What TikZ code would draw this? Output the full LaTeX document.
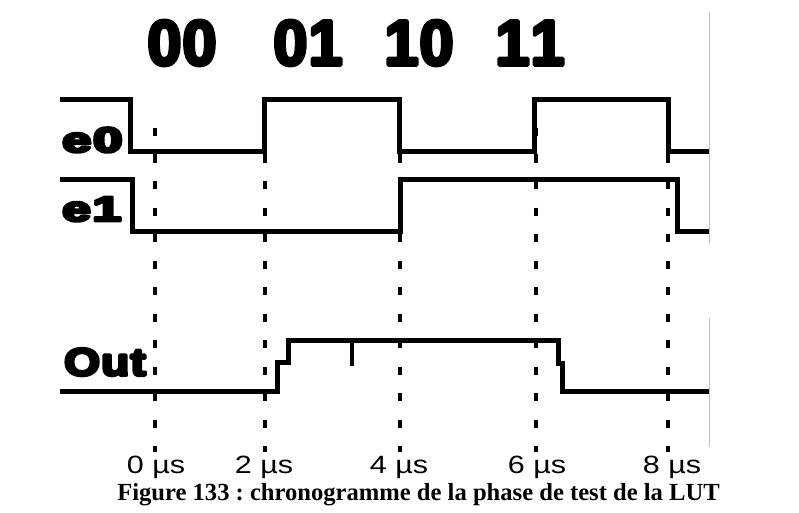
\documentclass[tikz,border=0pt]{standalone}
\usepackage{fontspec}
\setmainfont{Liberation Serif}
\newfontfamily\lblfont{Liberation Sans}
\newfontfamily\tfont{Liberation Sans}
\newcommand\sxbox[2]{\scalebox{#1}[1]{#2}}
\newcommand\heavytext[2]{\special{pdf:literal direct 2 Tr 1 j #1 w}#2\special{pdf:literal direct 0 Tr}}
\frenchspacing
\begin{document}
\begin{tikzpicture}[x=1pt,y=-1pt,
  wave/.style={line width=5pt, line join=miter, line cap=butt},
  gridln/.style={line width=3.5pt, dash pattern=on 8pt off 18.5pt},
  border/.style={line width=1pt, draw=black!25},
  siglbl/.style={inner sep=0pt, anchor=base west, font=\lblfont\bfseries},
  toplbl/.style={inner sep=0pt, anchor=base, font=\lblfont\bfseries\fontsize{64}{64}\selectfont},
  timelbl/.style={inner sep=0pt, anchor=base, font=\tfont\fontsize{25}{25}\selectfont},
  caption/.style={inner sep=0pt, anchor=base, font=\bfseries\fontsize{24.6}{25}\selectfont}]
\useasboundingbox (0,0) rectangle (799,513);
% right border of the figure
\draw[border] (709,12) -- (709,243);
\draw[border] (709,318) -- (709,447);
% time grid
\foreach \gx in {155,265,400,536,668}
  \draw[gridln] (\gx,128) -- (\gx,452);
% top labels
\node[toplbl] (l00) at (182,65) {\sxbox{0.96}{\heavytext{3.6}{0\kern1pt 0}}};
\node[toplbl] (l01) at (308,65) {\sxbox{0.96}{\heavytext{3.6}{0\kern1pt 1}}};
\node[toplbl] (l10) at (419,65) {\sxbox{0.96}{\heavytext{3.6}{1\kern1pt 0}}};
\node[toplbl] (l11) at (530,65) {\sxbox{0.96}{\heavytext{3.6}{1\kern1pt 1}}};
% signal names
\node[siglbl] (ne0) at (62,152) {\fontsize{35}{35}\selectfont\sxbox{1.5}{\heavytext{2.8}{e\kern1.2pt 0}}};
\node[siglbl] (ne1) at (62,221) {\fontsize{35}{35}\selectfont\sxbox{1.47}{\heavytext{2.8}{e\kern1.2pt 1}}};
\node[siglbl] (nout) at (64,375.5) {\fontsize{39}{39}\selectfont\sxbox{1.18}{\heavytext{2.8}{O\kern1pt u\kern1pt t}}};
% waveforms
\draw[wave] (60,100) -- (130,100) -- (130,152) -- (264,152) -- (264,100) -- (399,100)
  -- (399,152) -- (534,152) -- (534,100) -- (668,100) -- (668,152) -- (709,152);
\draw[wave] (60,179) -- (132,179) -- (132,231) -- (400,231) -- (400,179) -- (677,179)
  -- (677,231) -- (709,231);
\draw[wave] (60,391) -- (277,391) -- (277,362) -- (288,362) -- (288,340) -- (558,340)
  -- (558,363) -- (562,363) -- (562,391) -- (709,391);
\draw[line width=4pt] (352,340) -- (352,366);
% time labels
\node[timelbl] (t0) at (156,473) {\sxbox{1.22}{0 µs}};
\node[timelbl] (t2) at (264,473) {\sxbox{1.22}{2 µs}};
\node[timelbl] (t4) at (399,473) {\sxbox{1.22}{4 µs}};
\node[timelbl] (t6) at (537,473) {\sxbox{1.22}{6 µs}};
\node[timelbl] (t8) at (672,473) {\sxbox{1.22}{8 µs}};
% caption
\node[caption] (cap) at (418.5,500) {Figure 133 : chronogramme de la phase de test de la LUT};
\end{tikzpicture}
\end{document}
